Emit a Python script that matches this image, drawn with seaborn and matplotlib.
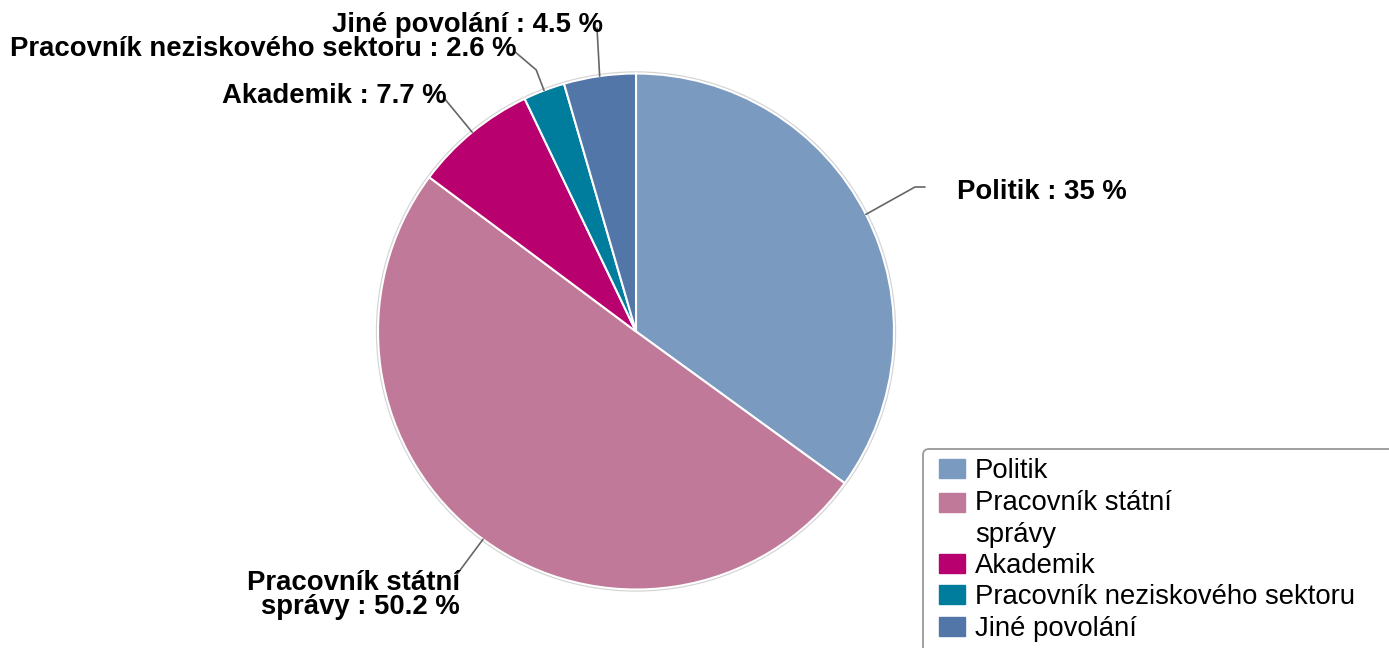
import numpy as np
import seaborn as sns
import matplotlib
matplotlib.use('Agg')
import matplotlib.pyplot as plt
from matplotlib.patches import FancyBboxPatch, Rectangle
from matplotlib.legend_handler import HandlerPatch

# Data
categories = ['Politik', 'Pracovník státní správy', 'Akademik',
              'Pracovník neziskového sektoru', 'Jiné povolání']
shares = [35.0, 50.2, 7.7, 2.6, 4.5]
share_labels = ['35', '50.2', '7.7', '2.6', '4.5']
legend_labels = ['Politik', 'Pracovník státní\nsprávy', 'Akademik',
                 'Pracovník neziskového sektoru', 'Jiné povolání']
slice_labels = ['Politik', 'Pracovník státní\nsprávy', 'Akademik',
                'Pracovník neziskového sektoru', 'Jiné povolání']
colors = ['#7a9ac0', '#c07999', '#b8006e', '#007c9c', '#5276a8']

sns.set_style('white')
plt.rcParams['font.family'] = ['Liberation Sans', 'DejaVu Sans']

W, H = 1389, 648
fig = plt.figure(figsize=(W / 100, H / 100), dpi=100)
ax = fig.add_axes([0, 0, 1, 1])

cx, cy, r = 636, H - 331.5, 258

# faint outline around the pie
ax.add_patch(plt.Circle((cx, cy), r + 1.5, color='#d4d4d4', zorder=0))

palette = sns.color_palette(colors)
wedges, _ = ax.pie(shares, colors=palette, startangle=90, counterclock=False,
                   center=(cx, cy), radius=r, frame=True,
                   wedgeprops=dict(edgecolor='white', linewidth=1.5))
ax.set_xlim(0, W)
ax.set_ylim(0, H)
ax.set_aspect('equal')
ax.axis('off')

# label placement: text anchor in pixels from top-left, alignment, elbow radius
label_pos = [
    (957, 192, 'left', 0),
    (460, 595, 'right', 0),
    (447, 96, 'right', 22),
    (517, 49, 'right', 22),
    (603, 25, 'right', 0),
]

for w, name, val, (tx, ty, ha, dr) in zip(wedges, slice_labels, share_labels, label_pos):
    ang = np.deg2rad((w.theta1 + w.theta2) / 2)
    x0, y0 = cx + r * np.cos(ang), cy + r * np.sin(ang)
    x1, y1 = cx + (r + dr) * np.cos(ang), cy + (r + dr) * np.sin(ang)
    ty = H - ty
    if ha == 'left':
        xs, ys = [x0, tx - 42, tx - 32], [y0, ty + 5, ty + 5]
    elif name.startswith('Pracovník státní'):
        xs, ys = [x0, tx - 5], [y0, ty + 18]
    elif dr == 0:
        xs, ys = [x0, tx - 6], [y0, ty - 3]
    else:
        xs, ys = [x0, x1, tx - 3], [y0, y1, ty - 2]
    ax.plot(xs, ys, color='#666666', lw=1.2, zorder=3)
    ax.text(tx, ty, f'{name} : {val} %', ha=ha, va='center',
            multialignment='right', fontsize=19.8, fontweight='bold',
            color='black', linespacing=0.95, zorder=4)

# legend frame, running off the right and bottom edges
ax.add_patch(FancyBboxPatch((923, -20), 500, H - 449 + 20,
                            boxstyle='round,pad=0,rounding_size=6',
                            facecolor='white', edgecolor='#999999',
                            lw=1.3, zorder=5, clip_on=False))


def top_line_patch(legend, orig_handle, xdescent, ydescent, width, height, fontsize):
    # keep the swatch next to the first line of a wrapped label
    lift = 11.5 if '\n' in orig_handle.get_label() else 0
    return Rectangle((-xdescent, -ydescent + lift), width, height)


handles = [Rectangle((0, 0), 1, 1, color=c, label=l) for c, l in zip(palette, legend_labels)]
leg = fig.legend(handles=handles, loc='upper left',
                 bbox_to_anchor=(939 / W, 1 - 458 / H),
                 fontsize=19.8, frameon=False,
                 handler_map={Rectangle: HandlerPatch(patch_func=top_line_patch)},
                 handlelength=0.95, handleheight=0.69,
                 handletextpad=0.36, labelspacing=0.2, borderpad=0,
                 borderaxespad=0)
leg.set_zorder(6)
for t in leg.get_texts():
    t.set_linespacing(1.3)
    t.set_color('black')

fig.savefig('out.png', dpi=100)
